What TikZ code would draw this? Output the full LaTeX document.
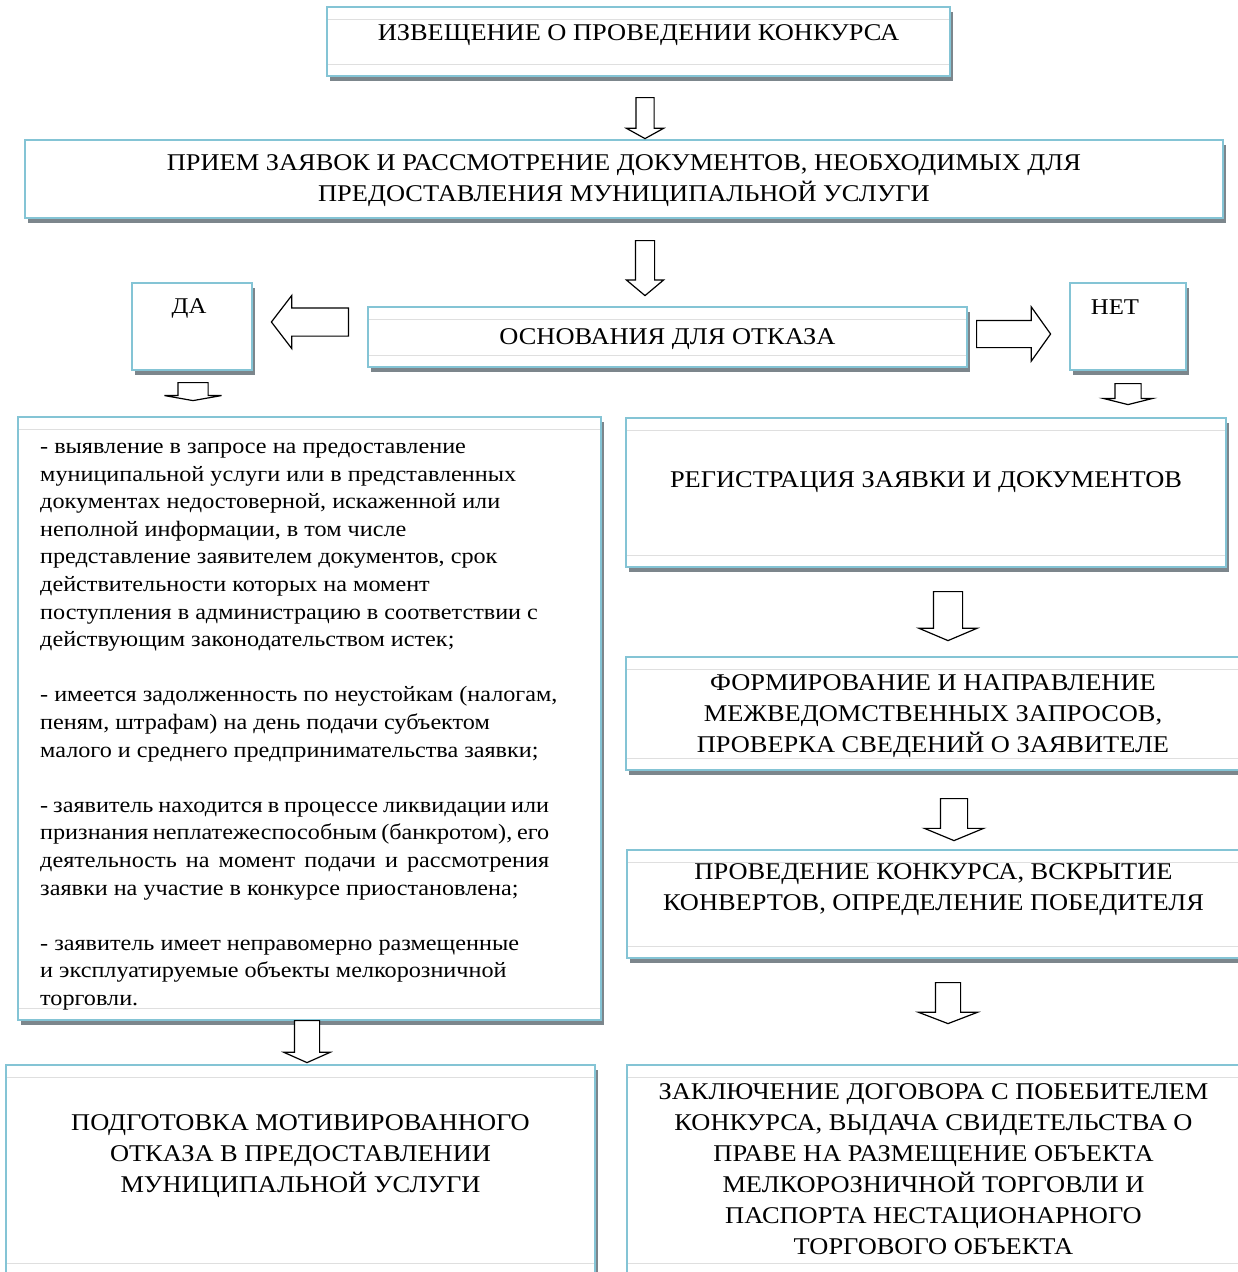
\documentclass[tikz,border=0pt]{standalone}
\usepackage{fontspec}
\setmainfont[FakeStretch=1.1]{Liberation Serif}
\usetikzlibrary{shapes.arrows,shadows,positioning}
\definecolor{frameblue}{RGB}{132,196,213}
\definecolor{shadowgrey}{RGB}{124,134,140}
\tikzset{
  stage/.style   = {shape=rectangle, draw=frameblue, line width=2.4pt,
                    fill=white, inner sep=0pt, outer sep=0pt,
                    anchor=north west,
                    drop shadow={shadow xshift=3pt, shadow yshift=-5pt,
                                 fill=shadowgrey, opacity=1}},
  ruled/.style   = {path picture={
                      \draw[gray!25, line width=0.6pt]
                        ([yshift=-12pt]path picture bounding box.north west) --
                        ([yshift=-12pt]path picture bounding box.north east)
                        ([yshift=12pt]path picture bounding box.south west) --
                        ([yshift=12pt]path picture bounding box.south east);}},
  caption/.style = {align=center, inner sep=0pt,
                    font=\fontsize{24}{31}\selectfont},
  answer/.style  = {inner sep=0pt, font=\fontsize{22.5}{26}\selectfont},
  reasons/.style = {align=left, inner sep=0pt, anchor=north west,
                    font=\fontsize{22}{27.6}\selectfont},
  hollow/.style n args = {4}{single arrow, draw, fill=white,
                    line width=1.2pt, inner xsep=0pt, inner ysep=#2pt,
                    minimum height=#1pt, single arrow head extend=#3pt,
                    single arrow tip angle=#4, anchor=tail}
}
\begin{document}
\begin{tikzpicture}[x=1pt, y=-1pt]
  \useasboundingbox (0,0) rectangle (1238,1272);
  \clip (0,0) rectangle (1238,1272);

  % top of the flow
  \node [stage, ruled, minimum width=623pt, minimum height=69pt] (notice) at (327,7) {};
  \node [caption] (notice text) at ([yshift=6pt]notice.center)
    {ИЗВЕЩЕНИЕ О ПРОВЕДЕНИИ КОНКУРСА};

  \node [stage, minimum width=1198pt, minimum height=78pt] (intake) at (25,140) {};
  \node [caption] (intake text) at ([yshift=-2pt]intake.center)
    {ПРИЕМ ЗАЯВОК И РАССМОТРЕНИЕ ДОКУМЕНТОВ, НЕОБХОДИМЫХ ДЛЯ\\
     ПРЕДОСТАВЛЕНИЯ МУНИЦИПАЛЬНОЙ УСЛУГИ};

  % decision row
  \node [stage, minimum width=120pt, minimum height=87pt] (yes) at (132,283) {};
  \node [answer] (yes text) at ([xshift=-3pt, yshift=18pt]yes.center) {ДА};

  \node [stage, ruled, minimum width=599pt, minimum height=60pt] (grounds) at (368,307) {};
  \node [caption] (grounds text) at ([yshift=-2.5pt]grounds.center)
    {ОСНОВАНИЯ ДЛЯ ОТКАЗА};

  \node [stage, minimum width=116pt, minimum height=87pt] (no) at (1070,283) {};
  \node [answer] (no text) at ([xshift=-13pt, yshift=19.5pt]no.center) {НЕТ};

  % refusal branch
  \node [stage, ruled, minimum width=583pt, minimum height=603pt] (refusal) at (18,417) {};
  \node [reasons] (refusal text) at (40,443)
    {- выявление в запросе на предоставление\\
     муниципальной услуги или в представленных\\
     документах недостоверной, искаженной или\\
     неполной информации, в том числе\\
     представление заявителем документов, срок\\
     действительности которых на момент\\
     поступления в администрацию в соответствии с\\
     действующим законодательством истек;\\[27.6pt]
     - имеется задолженность по неустойкам (налогам,\\
     пеням, штрафам) на день подачи субъектом\\
     малого и среднего предпринимательства заявки;\\[27.6pt]
     \makebox[509pt][s]{- заявитель находится в процессе ликвидации или}\\
     \makebox[509pt][s]{признания неплатежеспособным (банкротом), его}\\
     \makebox[509pt][s]{деятельность на момент подачи и рассмотрения}\\
     заявки на участие в конкурсе приостановлена;\\[27.6pt]
     - заявитель имеет неправомерно размещенные\\
     и эксплуатируемые объекты мелкорозничной\\
     торговли.};

  \node [stage, ruled, minimum width=589pt, minimum height=210pt] (denial) at (6,1065) {};
  \node [caption] (denial text) at ([yshift=14pt]denial.center)
    {ПОДГОТОВКА МОТИВИРОВАННОГО\\
     ОТКАЗА В ПРЕДОСТАВЛЕНИИ\\
     МУНИЦИПАЛЬНОЙ УСЛУГИ};

  % admission branch
  \node [stage, ruled, minimum width=600pt, minimum height=149pt] (register) at (626,418) {};
  \node [caption] (register text) at ([yshift=10.5pt]register.center)
    {РЕГИСТРАЦИЯ ЗАЯВКИ И ДОКУМЕНТОВ};

  \node [stage, ruled, minimum width=614pt, minimum height=113pt] (queries) at (626,657) {};
  \node [caption] (queries text) at ([yshift=-2.5pt]queries.center)
    {ФОРМИРОВАНИЕ И НАПРАВЛЕНИЕ\\
     МЕЖВЕДОМСТВЕННЫХ ЗАПРОСОВ,\\
     ПРОВЕРКА СВЕДЕНИЙ О ЗАЯВИТЕЛЕ};

  \node [stage, ruled, minimum width=613pt, minimum height=108pt] (contest) at (627,850) {};
  \node [caption] (contest text) at ([yshift=14pt]contest.center)
    {ПРОВЕДЕНИЕ КОНКУРСА, ВСКРЫТИЕ\\
     КОНВЕРТОВ, ОПРЕДЕЛЕНИЕ ПОБЕДИТЕЛЯ};

  \node [stage, ruled, minimum width=613pt, minimum height=210pt] (contract) at (627,1065) {};
  \node [caption] (contract text) at ([yshift=1pt]contract.center)
    {ЗАКЛЮЧЕНИЕ ДОГОВОРА С ПОБЕБИТЕЛЕМ\\
     КОНКУРСА, ВЫДАЧА СВИДЕТЕЛЬСТВА О\\
     ПРАВЕ НА РАЗМЕЩЕНИЕ ОБЪЕКТА\\
     МЕЛКОРОЗНИЧНОЙ ТОРГОВЛИ И\\
     ПАСПОРТА НЕСТАЦИОНАРНОГО\\
     ТОРГОВОГО ОБЪЕКТА};

  % hollow arrows between the stages
  \node [hollow={41}{8.5}{9.5}{122}, rotate=-90] (notice to intake) at (645,97) {};
  \node [hollow={55}{9}{9}{100}, rotate=-90] (intake to grounds) at (645,240) {};
  \node [hollow={77}{13.5}{12.5}{105}, rotate=180] (grounds to yes) at (349,322) {};
  \node [hollow={74}{13}{13.5}{109}] (grounds to no) at (976,334) {};
  \node [hollow={18}{14.5}{13.5}{160}, rotate=-90] (yes to refusal) at (193,382) {};
  \node [hollow={21}{12.5}{11.5}{152}, rotate=-90] (no to register) at (1128,383) {};
  \node [hollow={49}{14}{14.5}{134}, rotate=-90] (register to queries) at (948,591) {};
  \node [hollow={42}{13}{16}{135}, rotate=-90] (queries to contest) at (954,798) {};
  \node [hollow={41}{12}{17}{138}, rotate=-90] (contest to contract) at (948,982) {};
  \node [hollow={42}{12}{10.5}{132}, rotate=-90] (refusal to denial) at (307,1020) {};
\end{tikzpicture}
\end{document}
